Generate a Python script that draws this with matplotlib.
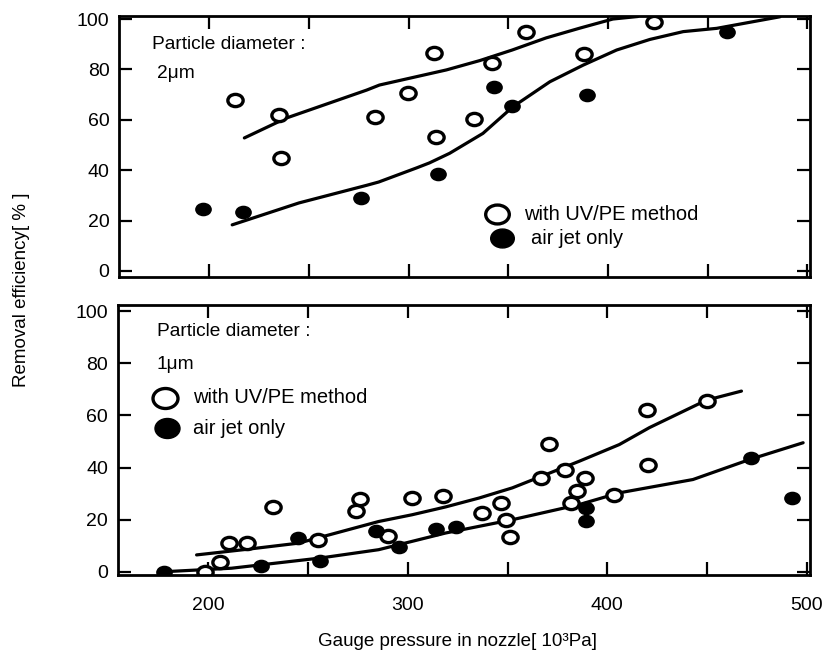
import numpy as np
import matplotlib
matplotlib.use("Agg")
import matplotlib.pyplot as plt
from matplotlib.path import Path

plt.rcParams['font.family'] = ['Liberation Sans', 'DejaVu Sans']

# particle diameter 2 um (top panel)
uv2_x = [213, 235, 236, 283, 299.5, 312.6, 313.6, 332.7, 342, 358.8, 388, 423]
uv2_y = [68, 62, 45, 61, 70.6, 86.5, 53.2, 60.3, 82.5, 95, 86, 99]
jet2_x = [197, 217, 276, 314.6, 343, 352, 389.4, 460]
jet2_y = [24.6, 23.4, 29, 38.5, 73, 65.5, 70, 95]
uv2_fit_x = [217.6, 238.7, 279, 285.4, 319, 335.7, 352, 369, 386, 402.5, 415]
uv2_fit_y = [52.8, 60.7, 71.8, 73.8, 79.8, 83.5, 87.7, 92.5, 96.4, 100, 101]
jet2_fit_x = [211.5, 245, 279, 285, 304, 310.5, 320.6, 337.3, 352.4, 370.9,
              387.6, 404.4, 421.1, 437.8, 454.6, 486.4]
jet2_fit_y = [18.3, 27, 34, 35.3, 40.9, 42.9, 46.7, 54.6, 65.2, 75.1,
              81.7, 87.7, 91.9, 95, 96.3, 100.9]

# particle diameter 1 um (bottom panel)
uv1_x = [198.5, 206, 210.5, 219.6, 232.7, 255, 274, 276, 290, 302, 317.6, 337,
         346.7, 349, 351, 367, 371, 379, 382, 385, 389, 403.5, 420, 420.6, 449.7]
uv1_y = [0, 3.8, 11, 11, 25, 12.3, 23.5, 28, 13.8, 28.5, 29, 22.7,
         26.5, 20, 13.5, 35.8, 49, 39.2, 26.5, 31, 35.8, 29.6, 62, 40.8, 65.4]
jet1_x = [178, 226.6, 245, 256, 284, 295.5, 314, 324, 389.5, 389.5, 472, 492.5]
jet1_y = [0, 2.3, 13, 4.2, 15.8, 9.4, 16.5, 17.2, 24.6, 19.6, 43.5, 28.5]
uv1_fit_x = [194.2, 220, 245.2, 285.4, 302.2, 319, 335.7, 352.4, 369.2, 385.9,
             406, 421.1, 449.6, 467.2]
uv1_fit_y = [6.5, 8.7, 11, 19.3, 21.9, 24.9, 28.3, 32.2, 37.3, 42.4,
             48.8, 55.3, 65.8, 69.3]
jet1_fit_x = [176.5, 211.7, 256.1, 285.4, 319, 352.4, 385.9, 406, 442.9, 471.4, 498.1]
jet1_fit_y = [0, 1.4, 5.3, 8.5, 14.9, 20, 25.8, 30.3, 35.4, 43.1, 49.5]

x_ticks = [200, 250, 300, 350, 400, 450, 500]
x_labels = ['200', '', '300', '', '400', '', '500']
y_ticks = [0, 20, 40, 60, 80, 100]

# slightly flattened circle, like the printed marks
circ = Path.unit_circle()
ell = Path(circ.vertices * np.array([1.0, 0.8]), circ.codes)

fig = plt.figure(figsize=(8.22, 6.55), dpi=100)
ax1 = fig.add_axes([0.145, 1 - 277 / 655, 0.8406, 261 / 655])
ax2 = fig.add_axes([0.1435, 1 - 575 / 655, 0.8418, 270 / 655])


def style(ax, ylim, show_x):
    ax.set_xlim(154.8, 501.5)
    ax.set_ylim(*ylim)
    ax.set_xticks(x_ticks)
    ax.set_xticklabels(x_labels if show_x else [])
    ax.set_yticks(y_ticks)
    ax.tick_params(direction='in', length=9.5, width=1.6, top=True, right=True,
                   labelsize=14)
    ax.tick_params(axis='y', pad=7)
    ax.tick_params(axis='x', pad=16)
    for s in ax.spines.values():
        s.set_linewidth(2)


def draw(ax, ux, uy, jx, jy, ufx, ufy, jfx, jfy):
    ax.plot(ufx, ufy, color='black', lw=2.3, solid_capstyle='round')
    ax.plot(jfx, jfy, color='black', lw=2.3, solid_capstyle='round')
    ax.plot(ux, uy, ls='none', marker=ell, ms=11, mfc='white', mec='black', mew=2.4)
    ax.plot(jx, jy, ls='none', marker=ell, ms=11, mfc='black', mec='black')


draw(ax1, uv2_x, uv2_y, jet2_x, jet2_y, uv2_fit_x, uv2_fit_y, jet2_fit_x, jet2_fit_y)
draw(ax2, uv1_x, uv1_y, jet1_x, jet1_y, uv1_fit_x, uv1_fit_y, jet1_fit_x, jet1_fit_y)
style(ax1, (-2.4, 101.2), False)
style(ax2, (-1.2, 102.3), True)

# panel captions
ax1.text(0.048, 0.889, 'Particle diameter :', transform=ax1.transAxes,
         fontsize=13.8, va='center')
ax1.text(0.055, 0.778, '2μm', transform=ax1.transAxes, fontsize=13.8, va='center')
ax2.text(0.056, 0.9, 'Particle diameter :', transform=ax2.transAxes,
         fontsize=13.8, va='center')
ax2.text(0.055, 0.778, '1μm', transform=ax2.transAxes, fontsize=13.8, va='center')

# legends drawn by hand
ax1.plot([0.547], [0.241], transform=ax1.transAxes, marker=ell, ms=17,
         mfc='white', mec='black', mew=2.4, clip_on=False)
ax1.plot([0.554], [0.149], transform=ax1.transAxes, marker=ell, ms=17,
         mfc='black', mec='black', clip_on=False)
ax1.text(0.586, 0.241, 'with UV/PE method', transform=ax1.transAxes,
         fontsize=14.5, va='center')
ax1.text(0.596, 0.149, 'air jet only', transform=ax1.transAxes,
         fontsize=14.5, va='center')

ax2.plot([0.068], [0.656], transform=ax2.transAxes, marker=ell, ms=18,
         mfc='white', mec='black', mew=2.4, clip_on=False)
ax2.plot([0.071], [0.544], transform=ax2.transAxes, marker=ell, ms=18,
         mfc='black', mec='black', clip_on=False)
ax2.text(0.108, 0.656, 'with UV/PE method', transform=ax2.transAxes,
         fontsize=14.5, va='center')
ax2.text(0.108, 0.544, 'air jet only', transform=ax2.transAxes,
         fontsize=14.5, va='center')

fig.text(22 / 822, 1 - 290 / 655, 'Removal efficiency[ % ]', rotation=90,
         ha='center', va='center', fontsize=13.5)
fig.text(457 / 822, 1 - 642 / 655, 'Gauge pressure in nozzle[ 10³Pa]',
         ha='center', va='center', fontsize=13.5)

fig.savefig('out.png', dpi=100)
